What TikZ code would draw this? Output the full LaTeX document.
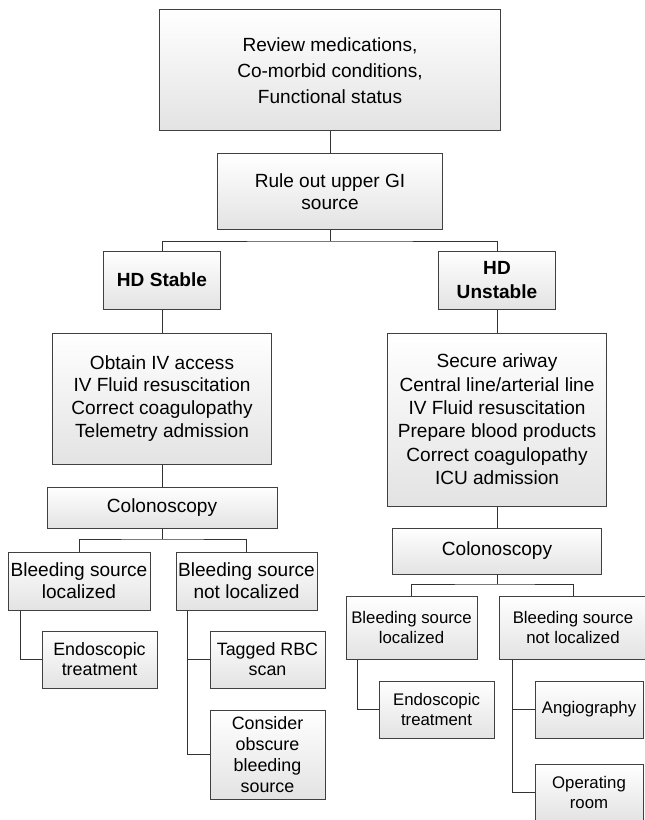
\documentclass[tikz,border=0pt]{standalone}
\usepackage{fontspec}
\setmainfont{Liberation Sans}
\usepackage{tikz}
\usetikzlibrary{positioning}
\tikzset{box/.style = {draw = black!75, line width = 0.75pt, top color = white, bottom color = black!11,
                       align = center, inner sep = 0, font = \fontsize{14.3}{17.2}\selectfont}}
\tikzset{smallbox/.style = {box, font = \fontsize{12.6}{14.4}\selectfont}}
\tikzset{link/.style = {draw = black!80, line width = 0.75pt}}

\begin{document}
\begin{tikzpicture}[x = 0.75pt, y = -0.75pt]
        \useasboundingbox (0, 0) rectangle (644, 820);

        \node [box, minimum width = 255.75pt, minimum height = 90.75pt, font = \fontsize{14.3}{19.5}\selectfont] (review) at (330, 70.5) {Review medications,\\Co-morbid conditions,\\Functional status};
        \node [box, minimum width = 168.75pt, minimum height = 56.25pt, font = \fontsize{14.3}{16.5}\selectfont] (ruleout) at (330, 191.5) {Rule out upper GI\\source};

        \node [box, minimum width = 87.75pt, minimum height = 43.5pt] (stable) at (162, 280) {\bfseries HD Stable};
        \node [box, minimum width = 87.75pt, minimum height = 43.5pt, font = \fontsize{14.3}{17.5}\selectfont] (unstable) at (497, 280) {\bfseries HD\\\bfseries Unstable};

        \node [box, minimum width = 164.25pt, minimum height = 98.25pt] (obtain) at (162, 398.5) {Obtain IV access\\IV Fluid resuscitation\\Correct coagulopathy\\Telemetry admission};
        \node [box, minimum width = 164.25pt, minimum height = 129.75pt, font = \fontsize{14.3}{17.5}\selectfont] (secure) at (497, 419.5) {Secure ariway\\Central line/arterial line\\IV Fluid resuscitation\\Prepare blood products\\Correct coagulopathy\\ICU admission};

        \node [box, minimum width = 172.5pt, minimum height = 30.75pt] (colonL) at (162, 507.5) {Colonoscopy};
        \node [box, minimum width = 156.75pt, minimum height = 34.5pt] (colonR) at (497, 551) {Colonoscopy};

        \node [box, minimum width = 106.5pt, minimum height = 43.5pt, font = \fontsize{14.3}{16.3}\selectfont] (locL) at (79, 581) {Bleeding source\\localized};
        \node [box, minimum width = 105.75pt, minimum height = 43.5pt, font = \fontsize{14.3}{16.3}\selectfont] (notlocL) at (246.5, 581) {Bleeding source\\not localized};
        \node [box, minimum width = 86.25pt, minimum height = 42.75pt, font = \fontsize{13.4}{15}\selectfont] (endoL) at (99.5, 659.5) {Endoscopic\\treatment};
        \node [box, minimum width = 86.25pt, minimum height = 42.75pt, font = \fontsize{13.4}{15}\selectfont] (tagged) at (267.5, 659.5) {Tagged RBC\\scan};
        \node [box, minimum width = 86.25pt, minimum height = 66.75pt, font = \fontsize{13.4}{15.8}\selectfont] (obscure) at (267.5, 754.5) {Consider\\obscure\\bleeding\\source};

        \node [smallbox, minimum width = 98.25pt, minimum height = 47.25pt] (locR) at (411.5, 627.5) {Bleeding source\\localized};
        \node [smallbox, minimum width = 111pt, minimum height = 47.25pt] (notlocR) at (573, 627.5) {Bleeding source\\not localized};
        \node [smallbox, minimum width = 86.25pt, minimum height = 42.75pt] (endoR) at (436.5, 709.5) {Endoscopic\\treatment};
        \node [smallbox, minimum width = 81pt, minimum height = 42.75pt] (angio) at (589, 709.5) {Angiography};
        \node [smallbox, minimum width = 81pt, minimum height = 42.75pt, font = \fontsize{12.6}{15}\selectfont] (opr) at (589, 792.5) {Operating\\room};

        \coordinate (top split) at (330, 241);
        \coordinate (left split) at (162, 539);
        \coordinate (right split) at (497, 584);

        \draw [link] (review) -- (ruleout);
        \draw [link] (ruleout) -- (top split);
        \draw [link] (stable) |- (top split) -| (unstable);
        \draw [link] (stable) -- (obtain);
        \draw [link] (obtain) -- (colonL);
        \draw [link] (unstable) -- (secure);
        \draw [link] (secure) -- (colonR);

        \draw [link] (colonL) -- (left split);
        \draw [link] (locL) |- (left split) -| (notlocL);
        \draw [link] ([xshift = 9.75pt] locL.south west) |- (endoL);
        \draw [link] ([xshift = 9pt] notlocL.south west) |- (tagged);
        \draw [link] ([xshift = 9pt] notlocL.south west) |- (obscure);

        \draw [link] (colonR) -- (right split);
        \draw [link] (locR) |- (right split) -| (notlocR);
        \draw [link] ([xshift = 9pt] locR.south west) |- (endoR);
        \draw [link] ([xshift = 10.5pt] notlocR.south west) |- (angio);
        \draw [link] ([xshift = 10.5pt] notlocR.south west) |- (opr);
      \end{tikzpicture}
\end{document}
